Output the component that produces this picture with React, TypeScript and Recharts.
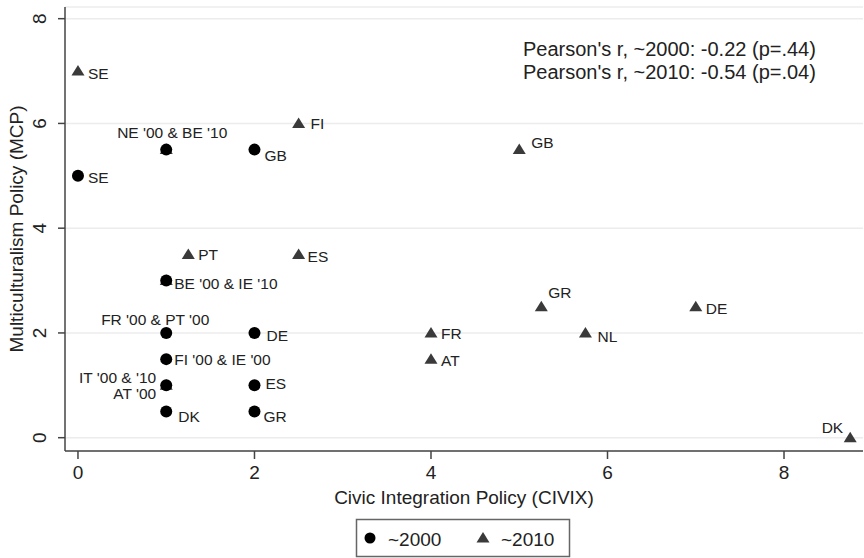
import React from 'react';
import { ScatterChart, Scatter, XAxis, YAxis, CartesianGrid, Label } from 'recharts';

const FONT = '"Liberation Sans", Arial, Helvetica, sans-serif';
const TEXT = '#222';
const AXIS = '#444';

// ~2000 observations (circles)
const labels2000 = [
  'SE',
  "NE '00 & BE '10",
  'GB',
  "BE '00 & IE '10",
  "FR '00 & PT '00",
  'DE',
  "FI '00 & IE '00",
  "IT '00 & '10\nAT '00",
  'ES',
  'DK',
  'GR',
];
const civix2000 = [0, 1, 2, 1, 1, 2, 1, 1, 2, 1, 2];
const mcp2000 = [5, 5.5, 5.5, 3, 2, 2, 1.5, 1, 1, 0.5, 0.5];

// ~2010 observations (triangles); empty labels share the ~2000 label at the same spot
const labels2010 = ['SE', 'FI', 'GB', '', 'PT', 'ES', '', 'GR', 'DE', 'FR', 'NL', 'AT', '', 'DK'];
const civix2010 = [0, 2.5, 5, 1, 1.25, 2.5, 1, 5.25, 7, 4, 5.75, 4, 1, 8.75];
const mcp2010 = [7, 6, 5.5, 5.5, 3.5, 3.5, 3, 2.5, 2.5, 2, 2, 1.5, 1, 0];

const xTicks = [0, 2, 4, 6, 8];
const yTicks = [0, 2, 4, 6, 8];
const xTitle = 'Civic Integration Policy (CIVIX)';
const yTitle = 'Multiculturalism Policy (MCP)';
const pearsonLines = ["Pearson's r, ~2000: -0.22 (p=.44)", "Pearson's r, ~2010: -0.54 (p=.04)"];
const legendNames = ['~2000', '~2010'];

type Anchor = 'start' | 'middle' | 'end';
type Place = { dx: number; dy: number; anchor: Anchor };
const right = (dx: number, dy: number): Place => ({ dx, dy, anchor: 'start' });

// marker-label placement around each marker
const place2000: Record<string, Place> = {
  SE: right(10, 1),
  "NE '00 & BE '10": { dx: 6, dy: -18, anchor: 'middle' },
  GB: right(10, 5),
  "BE '00 & IE '10": right(8, 2),
  "FR '00 & PT '00": { dx: -11, dy: -14, anchor: 'middle' },
  DE: right(12, 2),
  "FI '00 & IE '00": right(8, 0),
  "IT '00 & '10\nAT '00": { dx: -10, dy: 0, anchor: 'end' },
  ES: right(11, -2),
  DK: right(12, 4),
  GR: right(9, 4),
};
const place2010: Record<string, Place> = {
  SE: right(10, 2),
  FI: right(12, 0),
  GB: right(12, -8),
  PT: right(10, 0),
  ES: right(9, 2),
  GR: right(7, -15),
  DE: right(10, 1),
  FR: right(10, 0),
  NL: right(12, 3),
  AT: right(10, 1),
  DK: { dx: -7, dy: -11, anchor: 'end' },
};

type Pt = { x: number; y: number; label: string };
const build = (labels: string[], xs: number[], ys: number[]): Pt[] =>
  labels.map((label, i) => ({ x: xs[i], y: ys[i], label }));

const data2000 = build(labels2000, civix2000, mcp2000);
const data2010 = build(labels2010, civix2010, mcp2010);

const MarkerLabel = ({ cx, cy, text, place }: { cx: number; cy: number; text: string; place?: Place }) => {
  if (!text || !place) return null;
  const lines = text.split('\n');
  const lh = 16;
  const y0 = cy + place.dy - ((lines.length - 1) * lh) / 2;
  return (
    <text
      x={cx + place.dx}
      y={y0}
      textAnchor={place.anchor}
      dominantBaseline="central"
      fontSize={15.5}
      fontFamily={FONT}
      fill={TEXT}
    >
      {lines.map((l, i) => (
        <tspan key={i} x={cx + place.dx} y={y0 + i * lh}>
          {l}
        </tspan>
      ))}
    </text>
  );
};

const trianglePoints = (cx: number, cy: number) =>
  `${cx},${cy - 6} ${cx - 6.5},${cy + 4.5} ${cx + 6.5},${cy + 4.5}`;

const CircleShape = (props: any) => {
  const { cx, cy, payload } = props;
  return (
    <g>
      <circle cx={cx} cy={cy} r={6} fill="#000" />
      <MarkerLabel cx={cx} cy={cy} text={payload.label} place={place2000[payload.label]} />
    </g>
  );
};

const TriangleShape = (props: any) => {
  const { cx, cy, payload } = props;
  return (
    <g>
      <polygon points={trianglePoints(cx, cy)} fill="#3a3a3a" />
      <MarkerLabel cx={cx} cy={cy} text={payload.label} place={place2010[payload.label]} />
    </g>
  );
};

const XTick = (props: any) => {
  const { x, y, payload } = props;
  return (
    <text x={x} y={y} textAnchor="middle" dominantBaseline="central" fontSize={19} fontFamily={FONT} fill={TEXT}>
      {payload.value}
    </text>
  );
};

const YTick = (props: any) => {
  const { x, y, payload } = props;
  return (
    <text
      transform={`translate(${x},${y}) rotate(-90)`}
      textAnchor="middle"
      dominantBaseline="central"
      fontSize={19}
      fontFamily={FONT}
      fill={TEXT}
    >
      {payload.value}
    </text>
  );
};

export default function App() {
  return (
    <div style={{ position: 'absolute', left: 0, top: 0, width: 864, height: 558, background: '#fff' }}>
      <ScatterChart width={864} height={558} margin={{ top: 7, right: 1, bottom: 0, left: 0 }}>
        <CartesianGrid vertical={false} stroke="#ececec" strokeWidth={1.5} />
        <XAxis
          type="number"
          dataKey="x"
          domain={[-0.147, 8.895]}
          allowDataOverflow
          ticks={xTicks}
          height={107}
          tickSize={8}
          tickMargin={13}
          axisLine={{ stroke: AXIS, strokeWidth: 1.5 }}
          tickLine={{ stroke: AXIS, strokeWidth: 1.5 }}
          tick={<XTick />}
        >
          <Label
            value={xTitle}
            position="insideBottom"
            offset={54}
            style={{ fontSize: 19, fill: TEXT, fontFamily: FONT, textAnchor: 'middle' }}
          />
        </XAxis>
        <YAxis
          type="number"
          dataKey="y"
          domain={[-0.254, 8.223]}
          allowDataOverflow
          ticks={yTicks}
          width={65}
          tickSize={7}
          tickMargin={19}
          axisLine={{ stroke: AXIS, strokeWidth: 1.5 }}
          tickLine={{ stroke: AXIS, strokeWidth: 1.5 }}
          tick={<YTick />}
        >
          <Label
            value={yTitle}
            angle={-90}
            position="insideLeft"
            offset={16}
            style={{ fontSize: 19, fill: TEXT, fontFamily: FONT, textAnchor: 'middle' }}
          />
        </YAxis>
        <Scatter name={legendNames[1]} data={data2010} shape={<TriangleShape />} isAnimationActive={false} />
        <Scatter name={legendNames[0]} data={data2000} shape={<CircleShape />} isAnimationActive={false} />
      </ScatterChart>
      <svg
        width={864}
        height={558}
        style={{ position: 'absolute', left: 0, top: 0, pointerEvents: 'none' }}
      >
        <text x={523} y={49} dominantBaseline="central" fontSize={20} fontFamily={FONT} fill={TEXT}>
          {pearsonLines[0]}
        </text>
        <text x={523} y={72} dominantBaseline="central" fontSize={20} fontFamily={FONT} fill={TEXT}>
          {pearsonLines[1]}
        </text>
        <rect x={356.5} y={519.5} width={213} height={37} fill="#fff" stroke="#666" strokeWidth={1.5} />
        <circle cx={370} cy={538} r={5.5} fill="#000" />
        <text x={388} y={539} dominantBaseline="central" fontSize={19} fontFamily={FONT} fill={TEXT}>
          {legendNames[0]}
        </text>
        <polygon points={trianglePoints(483, 538)} fill="#3a3a3a" />
        <text x={501} y={539} dominantBaseline="central" fontSize={19} fontFamily={FONT} fill={TEXT}>
          {legendNames[1]}
        </text>
      </svg>
    </div>
  );
}
